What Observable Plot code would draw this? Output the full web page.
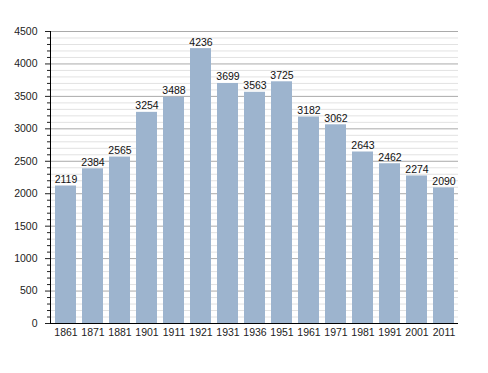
<!DOCTYPE html>
<html>
<head>
<meta charset="utf-8">
<script src="https://cdn.jsdelivr.net/npm/d3@7"></script>
<script src="https://cdn.jsdelivr.net/npm/@observablehq/plot@0.6"></script>
<style>
  html, body { margin: 0; padding: 0; background: #fff; }
  #chart svg { display: block; }
</style>
</head>
<body>
<div id="chart"></div>
<script>
const years = ["1861","1871","1881","1901","1911","1921","1931","1936","1951","1961","1971","1981","1991","2001","2011"];
const population = [2119,2384,2565,3254,3488,4236,3699,3563,3725,3182,3062,2643,2462,2274,2090];
const majorTicks = [0,500,1000,1500,2000,2500,3000,3500,4000,4500];
const minorTicks = d3.range(0, 4501, 100).filter(v => v % 500 !== 0);

const data = years.map((y, i) => ({year: y, value: population[i]}));

const chart = Plot.plot({
  width: 488,
  height: 373,
  marginLeft: 50,
  marginRight: 30,
  marginTop: 31,
  marginBottom: 50,
  style: {fontFamily: "'Liberation Sans', Arial, sans-serif", fontSize: "10.5px", color: "#222", background: "#fff"},
  x: {domain: years, paddingInner: 0.24, paddingOuter: 0.02, axis: null, label: null},
  y: {domain: [0, 4500], axis: null, label: null},
  marks: [
    Plot.ruleY(minorTicks, {stroke: "#e2e2e2", strokeWidth: 1}),
    Plot.ruleY(majorTicks.filter(v => v > 0), {stroke: "#aaaaaa", strokeWidth: 1}),
    Plot.barY(data, {x: "year", y: "value", fill: "#9db4ce"}),
    Plot.text(data, {x: "year", y: "value", text: d => String(d.value), dy: -3, lineAnchor: "bottom", fill: "#111", fontSize: 10.5}),
    Plot.axisY({ticks: minorTicks, tickSize: 3, text: null, stroke: "#222", label: null}),
    Plot.axisY({ticks: majorTicks, tickSize: 5, tickPadding: 8, tickFormat: d => String(d), stroke: "#222", fill: "#222", label: null}),
    Plot.axisX({tickSize: 0, tickPadding: 5, fill: "#222", label: null}),
    Plot.frame({anchor: "left", stroke: "#000"}),
    Plot.ruleY([0], {stroke: "#000", strokeWidth: 1.2})
  ]
});
document.getElementById("chart").appendChild(chart);
</script>
</body>
</html>
